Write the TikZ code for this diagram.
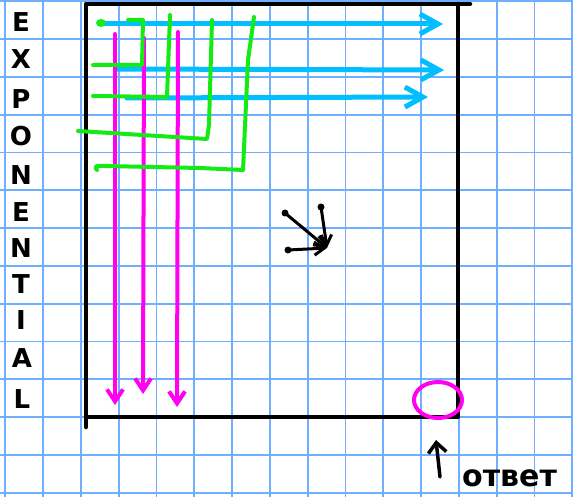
\documentclass[tikz,border=0pt]{standalone}
\usepackage{fontspec}
\setmainfont{DejaVu Sans}
\usepackage{tikz}
\usetikzlibrary{arrows.meta,positioning}
\definecolor{gridBlue}{RGB}{110,175,255}
\definecolor{inkCyan}{RGB}{0,190,255}
\definecolor{inkPink}{RGB}{255,0,240}
\definecolor{inkGreen}{RGB}{20,235,20}

\begin{document}
\begin{tikzpicture}[x=1pt,y=-1pt,line cap=round,line join=round,
  ltr/.style={font=\fontsize{26}{26}\selectfont\bfseries,inner sep=0pt},
  gridln/.style={gridBlue,line width=1.8pt},
  frame/.style={black,line width=4.5pt},
  rowarr/.style={inkCyan,line width=5pt,-{Straight Barb[length=18pt,width=20pt]}},
  colarr/.style={inkPink,line width=4pt,-{Straight Barb[length=12pt,width=16pt]}},
  grn/.style={inkGreen,line width=4pt},
  inkarr/.style={black,line width=3pt,-{Straight Barb[length=10pt,width=13pt]}}]
  \useasboundingbox (0,0) rectangle (573,497);
  \fill[white] (0,0) rectangle (573,497);
% --- squared paper ---
  \foreach \k in {0,...,15}
    \draw[gridln] ({5.2+37.8*\k},0) -- ({5.2+37.8*\k},497);
  \foreach \k in {0,...,13}
    \draw[gridln] (0,{1.3+37.8*\k}) -- (573,{1.3+37.8*\k});
% --- the word down the side ---
  \node[ltr] (l1) at (21,22) {E};
  \node[ltr] (l2) at (21,59) {X};
  \node[ltr] (l3) at (21,99) {P};
  \node[ltr] (l4) at (21,136) {O};
  \node[ltr] (l5) at (21,175) {N};
  \node[ltr] (l6) at (21,212) {E};
  \node[ltr] (l7) at (21,248) {N};
  \node[ltr] (l8) at (21,284) {T};
  \node[ltr] (l9) at (21,320) {I};
  \node[ltr] (l10) at (22,358) {A};
  \node[ltr] (l11) at (22,399) {L};
% --- matrix frame ---
  \draw[frame] (86,427) -- (86,4) -- (470,4);
  \draw[frame] (458,4) -- (458,417) -- (86,417);
% --- rows (cyan) ---
  \coordinate (h1a) at (100,24);  \coordinate (h1b) at (443,24);
  \coordinate (h2a) at (116,69);  \coordinate (h2b) at (444,70);
  \coordinate (h3a) at (127,98);  \coordinate (h3b) at (428,97);
  \draw[rowarr] (h1a) -- (h1b);
  \draw[rowarr] (h2a) -- (h2b);
  \draw[rowarr] (h3a) -- (h3b);
% --- columns (pink) ---
  \coordinate (v1a) at (115,34);  \coordinate (v1b) at (115,405);
  \coordinate (v2a) at (144,38);  \coordinate (v2b) at (143,394);
  \coordinate (v3a) at (178,32);  \coordinate (v3b) at (177,407);
  \draw[colarr] (v1a) -- (v1b);
  \draw[colarr] (v2a) -- (v2b);
  \draw[colarr] (v3a) -- (v3b);
% --- nested corners (green) ---
  \fill[inkGreen] (101,23) ellipse [x radius=5,y radius=4];
  \draw[grn] (93,65) -- (142,65) -- (143,20) -- (128,20);
  \draw[grn] (93,96) -- (167,97) -- (170,15);
  \draw[grn] (78,131) -- (207,139) -- (209,125) -- (212,20);
  \draw[grn] (97,170) .. controls (93,165) and (98,166) .. (105,166)
    -- (200,168) -- (243,170) -- (248,60) -- (254,17);
% --- one entry, three arrows in ---
  \coordinate (hit) at (327,248);
  \coordinate (s1) at (285,213);
  \coordinate (s2) at (288,250);
  \coordinate (s3) at (321,207);
  \fill (s1) circle (3.5); \fill (s2) circle (3.5); \fill (s3) circle (3.5);
  \draw[inkarr] (s1) -- (hit);
  \draw[inkarr] (s2) -- (hit);
  \draw[inkarr] (s3) -- (hit);
% --- answer corner ---
  \draw[inkPink,line width=4pt] (438,400) ellipse [x radius=24,y radius=18];
  \coordinate (up0) at (440,477);
  \coordinate (up1) at (436,440);
  \draw[black,line width=3.5pt,-{Straight Barb[length=10pt,width=18pt]}] (up0) -- (up1);
  \node[anchor=base west,inner sep=0pt,font=\fontsize{30}{30}\selectfont\bfseries] (otvet) at (462,486) {ответ};
\end{tikzpicture}
\end{document}
